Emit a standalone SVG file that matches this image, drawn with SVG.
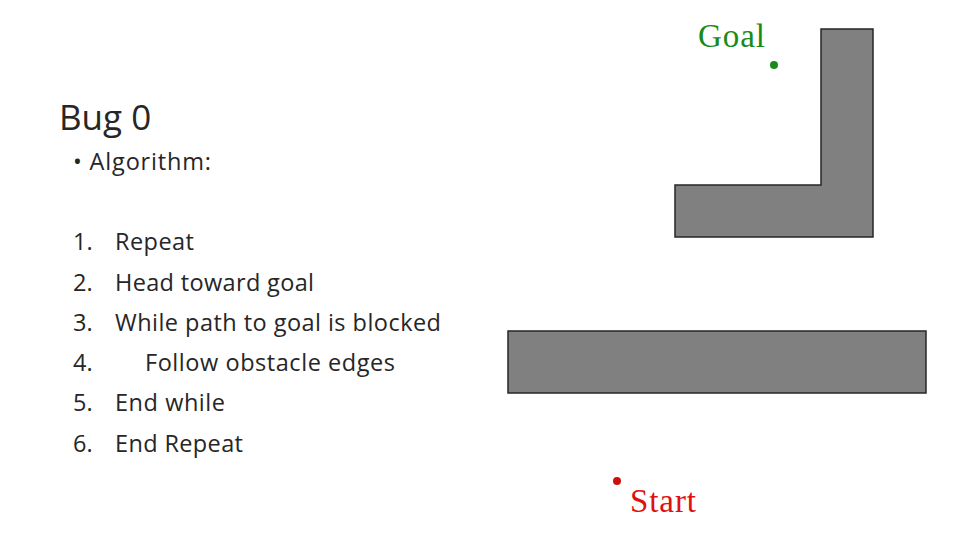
<svg xmlns="http://www.w3.org/2000/svg" width="960" height="540" viewBox="0 0 960 540">
<style>
.t{font-family:"Open Sans","Liberation Sans",Arial,sans-serif;fill:#262626}
.s{font-family:"Liberation Serif","Times New Roman",serif}
.ob{fill:#808080;stroke:#262626;stroke-width:1.5}
</style>
<rect width="960" height="540" fill="#fff"/>
<g id="title"><text class="t" x="59" y="130" font-size="35">Bug 0</text></g>
<g id="text" class="t" font-size="23.5">
<text x="73" y="170" textLength="138">• Algorithm:</text>
<text x="73" y="250">1.</text><text x="115" y="250" textLength="79">Repeat</text>
<text x="73" y="291">2.</text><text x="115" y="291" textLength="199">Head toward goal</text>
<text x="73" y="331">3.</text><text x="115" y="331" textLength="326">While path to goal is blocked</text>
<text x="73" y="371">4.</text><text x="145" y="371" textLength="250">Follow obstacle edges</text>
<text x="73" y="411">5.</text><text x="115" y="411" textLength="110">End while</text>
<text x="73" y="452">6.</text><text x="115" y="452" textLength="128">End Repeat</text>
</g>
<g id="obstacleL"><path class="ob" d="M821,29 H873 V237 H675 V185 H821 Z"/></g>
<g id="obstacleBar"><rect class="ob" x="508" y="331" width="418" height="62"/></g>
<g id="goal"><text class="s" x="698" y="47" font-size="33" fill="#1a8a1a" textLength="67">Goal</text><circle cx="774" cy="65" r="4" fill="#1a8a1a"/></g>
<g id="start"><text class="s" x="630" y="512" font-size="33" fill="#e01010" textLength="66">Start</text><circle cx="617" cy="481" r="4" fill="#cc1010"/></g>
<g id="connectors"/>
</svg>
